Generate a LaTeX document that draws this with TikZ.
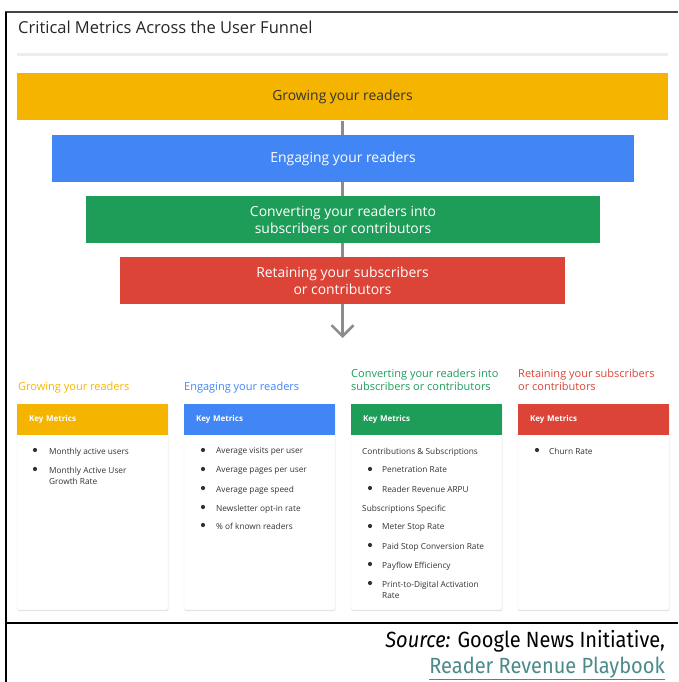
\documentclass[tikz,border=0pt]{standalone}
\usepackage{fontspec}
\setmainfont{Open Sans}
\newfontfamily\srcfont[FakeStretch=0.91]{Fira Sans}
\usetikzlibrary{arrows.meta,positioning,shadows,backgrounds}
\definecolor{gold}{HTML}{F4B400}
\definecolor{gblue}{HTML}{4285F4}
\definecolor{ggreen}{HTML}{1E9D58}
\definecolor{gred}{HTML}{DB4437}
\definecolor{ink}{HTML}{333333}
\definecolor{frame}{HTML}{444444}
\definecolor{linkc}{HTML}{4A8A8A}
\tikzset{
  bar/.style={fill=#1,minimum height=47pt,inner sep=0pt,align=center,text=white,
              font=\fontsize{13.9}{17}\selectfont},
  heading/.style={text=#1,anchor=north west,inner sep=0pt,align=left,font=\fontsize{11}{13}\selectfont},
  card/.style={fill=white,draw=black!8,minimum width=151pt,minimum height=206pt,inner sep=0pt,
               rounded corners=1.5pt,drop shadow={shadow xshift=0.4pt,shadow yshift=-1.2pt,opacity=0.25}},
  cardhead/.style={fill=#1,minimum width=151pt,minimum height=31pt,text width=127pt,inner sep=0pt,
                   align=left,text=white,font=\fontsize{8}{9}\selectfont\bfseries},
  item/.style={anchor=north west,inner sep=0pt,align=left,text=ink,font=\fontsize{8.3}{11}\selectfont},
  dot/.style={fill=ink},
  flow/.style={draw=black!45,line width=2.5pt,-{Straight Barb[length=11pt,width=22pt]}},
}
\begin{document}
\begin{tikzpicture}[x=1pt,y=-1pt]
  \useasboundingbox (0,0) rectangle (678,682);
  % frame and title
  \draw[frame,line width=2pt] (5,12) -- (678,12);
  \draw[black,line width=1.6pt] (6,12) -- (6,682);
  \draw[black,line width=1.4pt] (6,623) -- (678,623);
  \node[anchor=west,inner sep=0pt,text=black!85,font=\fontsize{16.5}{19}\selectfont] (title) at (18,27)
    {Critical Metrics Across the User Funnel};
  \draw[black!7,line width=3pt] (17,55) -- (668,55);
  % funnel
  \node[bar=gold,text=ink,minimum width=651pt] (grow) at (342.5,97) {Growing your readers};
  \node[bar=gblue,minimum width=582pt] (engage) at (343,158.5) {Engaging your readers};
  \node[bar=ggreen,minimum width=514pt] (convert) at (343,219.5) {Converting your readers into\\subscribers or contributors};
  \node[bar=gred,minimum width=445pt] (retain) at (342.5,280.5) {Retaining your subscribers\\or contributors};
  \coordinate (tip) at (342.5,338);
  \begin{scope}[on background layer]
    \draw[flow] (grow.south) -- (tip);
  \end{scope}
  % column headings
  \node[heading=gold] (hd1) at (18,382) {Growing your readers};
  \node[heading=gblue] (hd2) at (184,382) {Engaging your readers};
  \node[heading=ggreen] (hd3) at (351,369) {Converting your readers into\\subscribers or contributors};
  \node[heading=gred] (hd4) at (518,369) {Retaining your subscribers\\or contributors};
  % cards
  \foreach \n/\cx/\c in {1/92.5/gold,2/259.5/gblue,3/426.5/ggreen,4/593.5/gred}{
    \node[card] (c\n) at (\cx,507) {};
    \node[cardhead=\c,anchor=north] (k\n) at (c\n.north) {Key Metrics};
  }
  % metrics
  \foreach \t/\y [count=\i] in {Monthly active users/450,{Monthly Active User\\Growth Rate}/469}{
    \fill[dot] (35,\y) circle (2.1pt);
    \node[item] (ga\i) at (49,\y-2.5) {\t};
  }
  \foreach \t/\y [count=\i] in {Average visits per user/450,Average pages per user/469,
      Average page speed/488,Newsletter opt-in rate/507,\% of known readers/525}{
    \fill[dot] (203,\y) circle (2.1pt);
    \node[item] (ea\i) at (216,\y-2.5) {\t};
  }
  \node[item] (cs) at (362,447.5) {Contributions \& Subscriptions};
  \node[item] (ss) at (362,504.5) {Subscriptions Specific};
  \foreach \t/\y [count=\i] in {Penetration Rate/469,Reader Revenue ARPU/488,Meter Stop Rate/526,
      Paid Stop Conversion Rate/545,Payflow Efficiency/564,{Print-to-Digital Activation\\Rate}/583}{
    \fill[dot] (370,\y) circle (2.1pt);
    \node[item] (ca\i) at (382,\y-2.5) {\t};
  }
  \fill[dot] (537,450) circle (2.1pt);
  \node[item] (ra1) at (549,447.5) {Churn Rate};
  % source
  \node[anchor=base east,inner sep=0pt,font=\srcfont\fontsize{22}{26}\selectfont] (src) at (665,647)
    {\textit{Source:} Google News Initiative,};
  \node[anchor=base east,inner sep=0pt,text=linkc,font=\srcfont\fontsize{22}{26}\selectfont] (link) at (665,673)
    {\underline{Reader Revenue Playbook}};
\end{tikzpicture}
\end{document}
